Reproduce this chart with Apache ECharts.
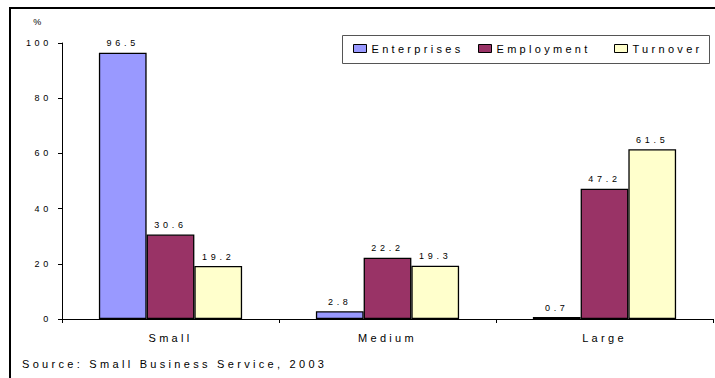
<!DOCTYPE html>
<html>
<head>
<meta charset="utf-8">
<script src="https://cdn.jsdelivr.net/npm/echarts@6/dist/echarts.min.js"></script>
<style>
  html, body { margin: 0; padding: 0; background: #fff; }
  #chart { width: 715px; height: 378px; }
  /* widely tracked lettering, as in the printed report */
  #chart svg text { letter-spacing: 3.3px; }
  #chart svg text[style*="9px"] { letter-spacing: 3.7px; }
</style>
</head>
<body>
<div id="chart"></div>
<script>
// Share of UK businesses by size band
const categories = ['Small', 'Medium', 'Large'];
const seriesNames = ['Enterprises', 'Employment', 'Turnover'];
const enterprises = [96.5, 2.8, 0.7];
const employment = [30.6, 22.2, 47.2];
const turnover = [19.2, 19.3, 61.5];
const yTicks = { min: 0, max: 100, interval: 20 };
const sourceNote = 'Source: Small Business Service, 2003';

const colors = ['#9999FF', '#993366', '#FFFFCC'];
const values = [enterprises, employment, turnover];
const font = '"Liberation Sans", Arial, sans-serif';

const chart = echarts.init(document.getElementById('chart'), null, { renderer: 'svg' });

const legendLeft = [353, 478, 614];

chart.setOption({
  backgroundColor: '#fff',
  animation: false,
  textStyle: { fontFamily: font, color: '#000' },
  title: {
    text: sourceNote,
    left: 22,
    top: 358,
    padding: 0,
    textStyle: { fontSize: 11, fontWeight: 'normal', color: '#000', fontFamily: font }
  },
  legend: seriesNames.map((n, i) => ({
    data: [n],
    left: legendLeft[i],
    top: 43,
    padding: 0,
    itemWidth: 13,
    itemHeight: 8,
    icon: 'rect',
    selectedMode: false,
    itemStyle: { borderColor: '#000', borderWidth: 1 },
    textStyle: { fontSize: 11, color: '#000', fontFamily: font }
  })),
  grid: { left: 62, right: 2, top: 43, bottom: 59, containLabel: false },
  xAxis: {
    type: 'category',
    data: categories,
    axisLine: { lineStyle: { color: '#000', width: 1 } },
    axisTick: { show: true, length: 4, lineStyle: { color: '#000' } },
    axisLabel: { fontSize: 11, color: '#000', margin: 13, fontFamily: font }
  },
  yAxis: {
    type: 'value',
    min: yTicks.min,
    max: yTicks.max,
    interval: yTicks.interval,
    name: '%',
    nameLocation: 'end',
    nameGap: 17,
    nameTextStyle: { fontSize: 9, color: '#000', align: 'right', padding: [0, 17, 0, 0], fontFamily: font },
    axisLine: { show: true, lineStyle: { color: '#000', width: 1 } },
    axisTick: { show: true, length: 4, lineStyle: { color: '#000' } },
    axisLabel: { fontSize: 9, color: '#000', margin: 10, fontFamily: font },
    splitLine: { show: false }
  },
  series: seriesNames.map((n, i) => ({
    name: n,
    type: 'bar',
    data: values[i],
    barGap: '0%',
    barCategoryGap: '34%',
    itemStyle: { color: colors[i], borderColor: '#000', borderWidth: 1.3 },
    label: {
      show: true,
      position: 'top',
      distance: 5,
      fontSize: 9,
      color: '#000',
      fontFamily: font,
      formatter: p => p.value.toFixed(1)
    }
  })),
  graphic: [
    {
      type: 'polyline',
      shape: { points: [[10, 378], [10, 8], [715, 8]] },
      style: { stroke: '#000', lineWidth: 2, fill: null },
      silent: true
    },
    {
      type: 'rect',
      shape: { x: 342.5, y: 35.5, width: 367, height: 28 },
      style: { stroke: '#555', lineWidth: 1, fill: null },
      silent: true
    }
  ]
});
</script>
</body>
</html>
